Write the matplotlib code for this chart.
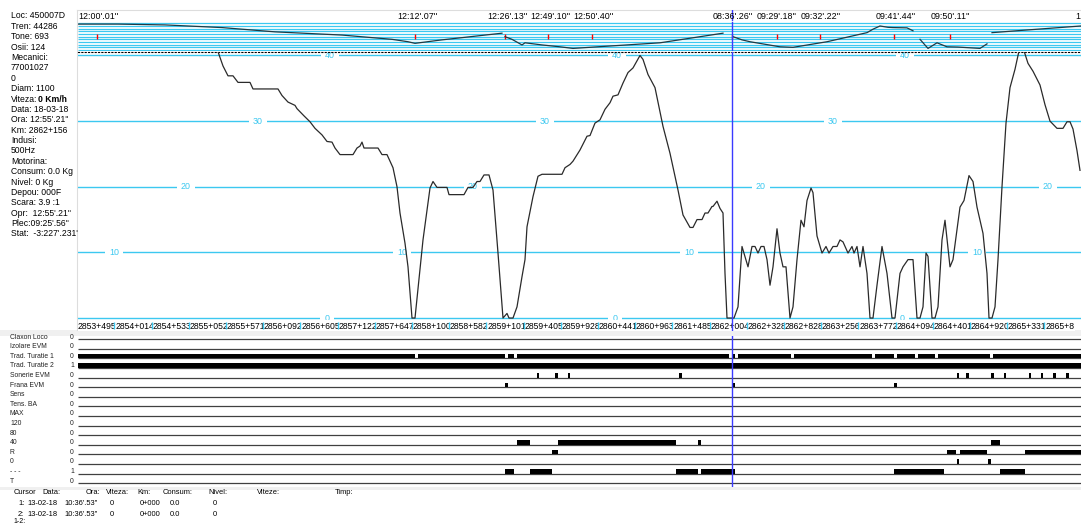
import matplotlib
matplotlib.use("Agg")
import matplotlib.pyplot as plt
from matplotlib.patches import Rectangle
from matplotlib.lines import Line2D
import numpy as np

plt.rcParams['font.family'] = ['Liberation Sans', 'DejaVu Sans']

# ---- data ----
info_lines = ["Loc: 450007D", "Tren: 44286", "Tone: 693", "Osii: 124", "Mecanici:",
              "77001027", "0", "Diam: 1100", "Viteza:", "Data: 18-03-18",
              "Ora: 12:55'.21''", "Km: 2862+156", "Indusi:", "500Hz", "Motorina:",
              "Consum: 0.0 Kg", "Nivel: 0 Kg", "Depou: 000F", "Scara: 3.9 :1",
              "Opr:  12:55'.21''", "Plec:09:25'.56''", "Stat:  -3:227'.231'"]
viteza_value = "0 Km/h"

time_pos = [0, 319, 409, 452, 495, 635, 679, 723, 798, 853, 997]
time_labels = ["12:00'.01''", "12:12'.07''", "12:26'.13''", "12:49'.10''", "12:50'.40''",
               "08:36'.26''", "09:29'.18''", "09:32'.22''", "09:41'.44''", "09:50'.11''", "1"]
event_pos = [19, 337, 427, 470, 514, 654, 699, 742, 816, 872]

# track profile in the top strip (pieces)
profile_pos = [[0, 40, 87, 144, 197, 264, 314, 330, 337, 364, 424],
               [427, 434, 444, 447, 464, 482, 495, 532, 582, 645],
               [655, 664, 672, 702, 715, 749, 789, 795, 802, 810, 815, 829, 835],
               [842, 850, 859, 869, 880, 902, 909],
               [914, 949, 1003]]
profile_lvl = [[0.3, 0.3, 0.6, 1.6, 3.2, 4.4, 6.0, 6.9, 7.5, 6.2, 3.7],
               [5.0, 6.0, 8.1, 7.3, 8.1, 8.8, 9.4, 8.5, 7.3, 3.7],
               [5.0, 6.2, 6.9, 8.8, 9.0, 6.9, 3.5, 2.2, 1.0, 1.5, 1.6, 1.7, 2.8],
               [6.0, 9.4, 7.3, 8.8, 8.9, 9.4, 7.7],
               [3.5, 2.5, 1.0]]

speed_pos = [139, 145, 150, 155, 160, 172, 175, 200, 204, 210, 217, 219, 226, 232, 237,
             244, 249, 254, 257, 262, 275, 279, 282, 284, 286, 300, 304, 309, 315, 319,
             322, 327, 330, 334, 337, 342, 345, 352, 355, 359, 369, 371, 386, 390, 395,
             399, 402, 406, 411, 415, 420, 425, 429, 431, 435, 439, 444, 447, 449, 455,
             460, 464, 484, 487, 492, 495, 502, 509, 512, 517, 522, 527, 532, 535, 540,
             545, 550, 555, 559, 562, 565, 570, 577, 585, 592, 600, 605, 612, 615, 619,
             624, 627, 630, 634, 635, 639, 642, 645, 647, 649, 656, 660, 664, 670, 674,
             677, 680, 683, 686, 689, 692, 695, 699, 702, 705, 708, 712, 715, 719, 723,
             726, 729, 733, 735, 739, 744, 748, 751, 755, 759, 762, 765, 770, 774, 776,
             779, 782, 785, 789, 792, 795, 799, 804, 809, 814, 817, 822, 825, 830, 835,
             839, 842, 845, 848, 850, 854, 857, 860, 864, 867, 872, 875, 882, 886, 891,
             895, 899, 902, 905, 909, 911, 914, 917, 920, 924, 928, 932, 937, 941, 946,
             950, 955, 962, 967, 972, 979, 985, 989, 992, 995, 999, 1002]
speed_kmh = [41.0, 38.4, 36.9, 36.9, 35.9, 35.9, 34.9, 34.9, 33.9, 32.9, 32.4, 31.9, 30.8, 29.9, 28.9,
             27.9, 26.9, 26.8, 25.9, 24.9, 24.9, 25.9, 26.2, 26.8, 25.9, 25.9, 24.9, 24.9, 22.9, 20.0,
             16.0, 11.4, 7.8, 0.0, 0.0, 7.5, 11.9, 19.8, 20.8, 19.9, 19.9, 18.8, 18.8, 19.9, 19.9,
             20.8, 20.8, 21.8, 21.8, 19.5, 9.9, 0.0, 0.7, 0.0, 0.0, 1.7, 6.3, 8.9, 13.9, 18.5,
             21.6, 21.9, 21.9, 22.9, 23.4, 23.9, 25.6, 27.7, 27.8, 29.7, 30.2, 31.8, 32.8, 33.8, 34.0,
             35.8, 37.4, 38.1, 39.2, 40.0, 39.4, 37.1, 35.1, 29.2, 25.1, 19.5, 15.7, 13.8, 13.8, 15.0,
             15.0, 16.0, 16.0, 17.0, 17.0, 17.8, 16.7, 16.0, 6.8, 0.0, 0.0, 1.7, 10.9, 7.8, 10.9,
             10.9, 9.9, 10.9, 10.9, 8.9, 5.0, 7.8, 13.6, 9.9, 7.8, 7.8, 0.0, 1.7, 8.9, 14.9,
             13.9, 17.9, 19.8, 19.1, 12.5, 9.9, 10.9, 9.9, 10.9, 10.9, 11.9, 11.6, 9.9, 10.9, 9.9,
             10.9, 7.8, 10.9, 6.8, 0.0, 0.0, 5.0, 10.9, 6.8, 0.0, 0.0, 6.8, 7.8, 8.9, 8.9,
             0.0, 0.0, 1.7, 9.9, 9.4, 0.0, 0.0, 1.7, 11.9, 14.9, 7.8, 8.9, 16.9, 17.9, 21.7,
             20.8, 16.9, 14.9, 12.9, 6.8, 0.0, 0.0, 1.7, 8.9, 20.0, 29.7, 35.1, 37.9, 40.7, 40.7,
             38.8, 37.6, 35.5, 32.5, 30.0, 28.9, 28.9, 29.9, 29.9, 28.8, 25.5, 22.5]

speed_grid = [0, 10, 20, 30, 40]
speed_label_pos = {40: [252, 539, 827], 30: [180, 467, 755], 20: [108, 395, 683, 970],
                   10: [36, 324, 611, 899], 0: [249, 537, 824]}

km_labels = ["2853+495", "2854+014", "2854+533", "2855+052", "2855+571", "2856+092",
             "2856+605", "2857+122", "2857+647", "2858+100", "2858+582", "2859+101",
             "2859+405", "2859+928", "2860+441", "2860+963", "2861+485", "2862+004",
             "2862+328", "2862+828", "2863+256", "2863+772", "2864+094", "2864+401",
             "2864+920", "2865+331", "2865+8"]

signal_names = ["Claxon Loco", "Izolare EVM", "Trad. Turatie 1", "Trad. Turatie 2",
                "Sonerie EVM", "Frana EVM", "Sens", "Tens. BA", "MAX", "120", "80",
                "40", "R", "0", "- - -", "T"]
signal_values = [0, 0, 0, 1, 0, 0, 0, 0, 0, 0, 0, 0, 0, 0, 1, 0]
signal_on = {
    2: [(0, 337), (340, 427), (430, 436), (439, 651), (654, 657), (660, 713), (716, 794),
        (797, 816), (819, 837), (840, 857), (860, 912), (915, 1003)],
    3: [(0, 1003)],
    4: [(459, 461), (477, 480), (490, 492), (601, 604), (879, 881), (888, 891),
        (913, 916), (926, 928), (951, 953), (963, 965), (975, 978), (988, 991)],
    5: [(427, 430), (654, 657), (816, 819)],
    11: [(439, 452), (480, 598), (620, 623), (913, 922)],
    12: [(474, 480), (869, 878), (882, 909), (947, 1003)],
    13: [(879, 881), (910, 913)],
    14: [(427, 436), (452, 474), (598, 620), (623, 657), (816, 866), (922, 947)],
}
cursor_pos = 654

cursor_head = ["Cursor", "Data:", "Ora:", "Viteza:", "Km:", "Consum:", "Nivel:", "Viteze:", "Timp:"]
cursor_rows = [["1:", "13-02-18", "10:36'.53''", "0", "0+000", "0.0", "0"],
               ["2:", "13-02-18", "10:36'.53''", "0", "0+000", "0.0", "0"]]

# ---- layout helpers (pixels) ----
W, H = 1081, 525
XMAX = 1003
CYAN = '#3cc8f0'
BLUE = '#3a3aff'


def box(x0, y0, x1, y1):
    return [x0 / W, 1 - y1 / H, (x1 - x0) / W, (y1 - y0) / H]


def ftext(x, y, s, **kw):
    kw.setdefault('fontsize', 6.2)
    kw.setdefault('va', 'center')
    return fig.text(x / W, 1 - y / H, s, **kw)


def blank(ax):
    ax.set_xlim(0, XMAX)
    ax.set_xticks([])
    ax.set_yticks([])
    for s in ax.spines.values():
        s.set_visible(False)
    ax.patch.set_alpha(0)


fig = plt.figure(figsize=(W / 100, H / 100), dpi=100)
fig.patch.set_facecolor('white')

# grey bands / frame (behind the axes)
fig.add_artist(Rectangle((0, 1 - 336 / H), 1, 6 / H, transform=fig.transFigure,
                         facecolor='#f0f0f0', edgecolor='none', zorder=-5))
fig.add_artist(Rectangle((0, 1 - 490 / H), 1, 3 / H, transform=fig.transFigure,
                         facecolor='#f0f0f0', edgecolor='none', zorder=-5))
fig.add_artist(Line2D([77 / W, 1], [1 - 10 / H, 1 - 10 / H], color='#dddddd', lw=0.8, zorder=-4))
fig.add_artist(Line2D([77 / W, 77 / W], [1 - 10 / H, 1 - 330 / H], color='#dddddd', lw=0.8, zorder=-4))

# left info panel
for i, line in enumerate(info_lines):
    ftext(11, 16 + 10.38 * i, line)
ftext(38, 16 + 10.38 * 8, viteza_value, weight='bold')

# header with times
hdr = fig.add_axes(box(78, 10, 1081, 22))
blank(hdr)
hdr.set_ylim(0, 1)
for p, t in zip(time_pos, time_labels):
    hdr.text(p, 0.45, t, fontsize=6.4, va='center', ha='left', clip_on=True)
hdr.axvline(cursor_pos, ymin=0.2, color=BLUE, lw=1)

# top strip
strip = fig.add_axes(box(78, 22, 1081, 51))
blank(strip)
strip.set_ylim(10.37, -0.49)
strip.hlines(np.arange(11), 0, XMAX, color=CYAN, lw=0.9)
strip.vlines(event_pos, 4.0, 5.9, color='red', lw=1)
for px, lv in zip(profile_pos, profile_lvl):
    strip.plot(px, lv, color='#1f3a44', lw=0.9)
strip.axvline(cursor_pos, color=BLUE, lw=1)

# speed chart
sp = fig.add_axes(box(78, 52, 1081, 320))
blank(sp)
sp.set_ylim(-0.30, 40.53)
sp.spines['top'].set_visible(True)
sp.spines['top'].set_linestyle((0, (1, 2)))
sp.spines['top'].set_linewidth(0.8)
for v in speed_grid:
    sp.axhline(v, color=CYAN, lw=1, zorder=1)
    for p in speed_label_pos[v]:
        sp.text(p, v, str(v), color=CYAN, fontsize=6.4, ha='center', va='center', zorder=2,
                bbox=dict(boxstyle='square,pad=0.5', fc='white', ec='none'), clip_on=True)
sp.plot(speed_pos, speed_kmh, color='#2a2a2a', lw=0.9, zorder=3)
sp.axvline(cursor_pos, color=BLUE, lw=1, zorder=4)

# km labels row
km = fig.add_axes(box(78, 320, 1081, 331))
blank(km)
km.set_ylim(0, 1)
km_x = np.arange(len(km_labels)) * 37.2
for i, (p, lab) in enumerate(zip(km_x, km_labels)):
    km.text(p, 0.45, lab, fontsize=6.2, va='center', ha='left', zorder=2 + i, clip_on=True,
            bbox=dict(boxstyle='square,pad=0.05', fc='white', ec='none'))
km.vlines(km_x[1:] - 0.8, 0.2, 0.8, color=CYAN, lw=1, zorder=100)
km.axvline(cursor_pos, color=BLUE, lw=1, zorder=101)

# signals panel
sig = fig.add_axes(box(78, 336, 1081, 487))
blank(sig)
sig.set_ylim(15.39, -0.34)
rows = np.arange(len(signal_names))
sig.hlines(rows, 0, XMAX, color='#404040', lw=0.9, zorder=1)
for r, spans in signal_on.items():
    sig.broken_barh([(a, b - a) for a, b in spans], (r - 0.49, 0.49),
                    facecolors='black', edgecolor='none', zorder=2)
sig.axvline(cursor_pos, color=BLUE, lw=1, zorder=3)

lab = fig.add_axes(box(0, 336, 78, 487))
lab.set_axis_off()
lab.set_xlim(0, 78)
lab.set_ylim(15.39, -0.34)
for r, (n, v) in enumerate(zip(signal_names, signal_values)):
    lab.text(10, r - 0.22, n, fontsize=4.9, va='center', ha='left', color='#222222')
    lab.text(74, r - 0.22, str(v), fontsize=4.9, va='center', ha='right', color='#222222')

# cursor readout
head_x = [14, 42, 86, 106, 137, 163, 208, 257, 335]
for x, t in zip(head_x, cursor_head):
    ftext(x, 493, t, fontsize=5.4)
row_x = [18, 27, 64, 110, 140, 170, 213]
for j, vals in enumerate(cursor_rows):
    for x, t in zip(row_x, vals):
        ftext(x, 503.5 + 10.5 * j, t, fontsize=5.4)
ftext(13, 521.5, "1-2:", fontsize=5.0)

fig.savefig("out.png", dpi=100)
